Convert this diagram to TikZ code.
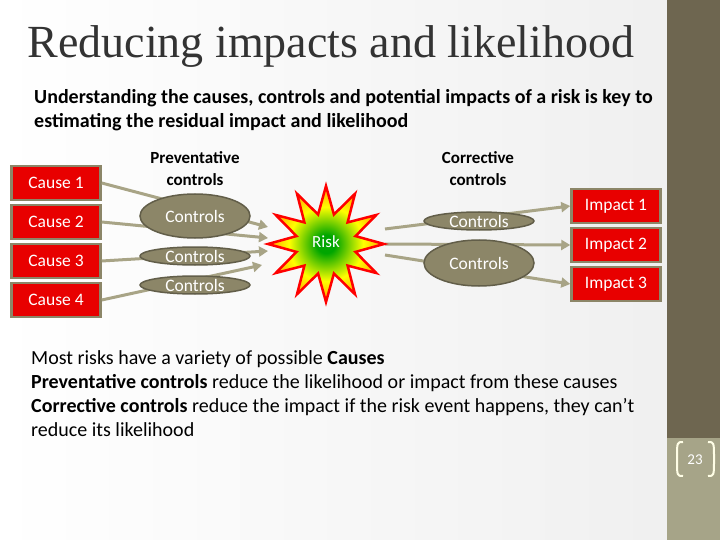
\documentclass[tikz,border=0pt]{standalone}
\usepackage{fontspec}
\setmainfont{Carlito}
\newfontfamily\titlefont{Liberation Serif}
\usetikzlibrary{shapes.geometric,arrows.meta}
\definecolor{olive}{HTML}{8C8668}
\definecolor{arr}{HTML}{A8A486}
\definecolor{boxred}{HTML}{E80000}
\definecolor{sidedark}{HTML}{6E6650}
\definecolor{sidelight}{HTML}{A6A488}
\pgfdeclareradialshading{riskshade}{\pgfpoint{0pt}{0pt}}{color(0bp)=(green!65!black);color(4bp)=(green!65!black);color(16bp)=(yellow);color(28bp)=(orange);color(50bp)=(orange)}
\tikzset{
 cbox/.style={draw=olive,line width=2.5pt,fill=boxred,text=white,minimum width=89pt,minimum height=34pt,font=\fontsize{17.5}{17.5}\selectfont},
 ctrl/.style={ellipse,draw=olive!70!black,line width=1.5pt,fill=olive,text=white,minimum width=110pt,font=\fontsize{17.5}{17.5}\selectfont,inner sep=0pt},
 link/.style={draw=arr,line width=3pt,-{Triangle[length=9pt,width=10pt]}},
 lab/.style={font=\bfseries\fontsize{17}{22}\selectfont,align=center}
}
\begin{document}
\begin{tikzpicture}[x=1pt,y=-1pt]
\useasboundingbox (0,0) rectangle (720,540);
\shade[left color=white,right color=gray!12] (0,0) rectangle (667,540);
\fill[sidedark] (667,0) rectangle (720,438);
\fill[sidelight] (667,438) rectangle (720,540);
\node[anchor=west,font=\titlefont\fontsize{46}{46}\selectfont,text=black!80] (title) at (24,47) {Reducing impacts and likelihood};
\node[anchor=north west,font=\bfseries\fontsize{20}{24}\selectfont,align=left,inner sep=0pt] (sub) at (34,89) {Understanding the causes, controls and potential impacts of a risk is key to\\estimating the residual impact and likelihood};
\node[cbox] (c1) at (56,183) {Cause 1};
\node[cbox] (c2) at (56,222) {Cause 2};
\node[cbox] (c3) at (56,261) {Cause 3};
\node[cbox] (c4) at (56,300) {Cause 4};
\node[cbox] (i1) at (616,206) {Impact 1};
\node[cbox] (i2) at (616,245) {Impact 2};
\node[cbox] (i3) at (616,284) {Impact 3};
\node[lab] (pl) at (195,169) {Preventative\\controls};
\node[lab] (cl) at (478,169) {Corrective\\controls};
\coordinate (a1) at (268,227);
\coordinate (a2) at (268,238);
\coordinate (a3) at (268,251);
\coordinate (a4) at (262,265);
\coordinate (b1) at (385,229);
\coordinate (b2) at (385,244);
\coordinate (b3) at (385,255);
\draw[link] (c1.east) -- (a1);
\draw[link] (c2.east) -- (a2);
\draw[link] (c3.east) -- (a3);
\draw[link] (c4.east) -- (a4);
\draw[link] (b1) -- (i1.west);
\draw[link] (b2) -- (i2.west);
\draw[link] (b3) -- (i3.west);
\node[ctrl,minimum height=44pt] (p1) at (195,216) {Controls};
\node[ctrl,minimum height=18pt] (p2) at (195,256) {Controls};
\node[ctrl,minimum height=18pt] (p3) at (195,285) {Controls};
\node[ctrl,minimum height=18pt] (k1) at (479,221) {Controls};
\node[ctrl,minimum height=46pt] (k2) at (479,263) {Controls};
\node[star,star points=12,star point ratio=1.9,minimum size=116pt,draw=red,line width=2.5pt,shading=riskshade] (risk) at (326,244) {};
\node[text=white,font=\fontsize{17}{17}\selectfont] (rt) at (326,242) {Risk};
\node[anchor=north west,font=\fontsize{20}{24}\selectfont,align=left,inner sep=0pt] (body) at (31,350) {Most risks have a variety of possible \textbf{Causes}\\\textbf{Preventative controls} reduce the likelihood or impact from these causes\\\textbf{Corrective controls} reduce the impact if the risk event happens, they can’t\\reduce its likelihood};
\draw[white!90!yellow,line width=2pt] (683,442) .. controls (677,442) and (677,442) .. (677,459) .. controls (677,476) and (677,476) .. (683,476);
\draw[white!90!yellow,line width=2pt] (708,442) .. controls (714,442) and (714,442) .. (714,459) .. controls (714,476) and (714,476) .. (708,476);
\node[text=white,font=\fontsize{15}{15}\selectfont] (pg) at (695,460) {23};
\end{tikzpicture}
\end{document}
